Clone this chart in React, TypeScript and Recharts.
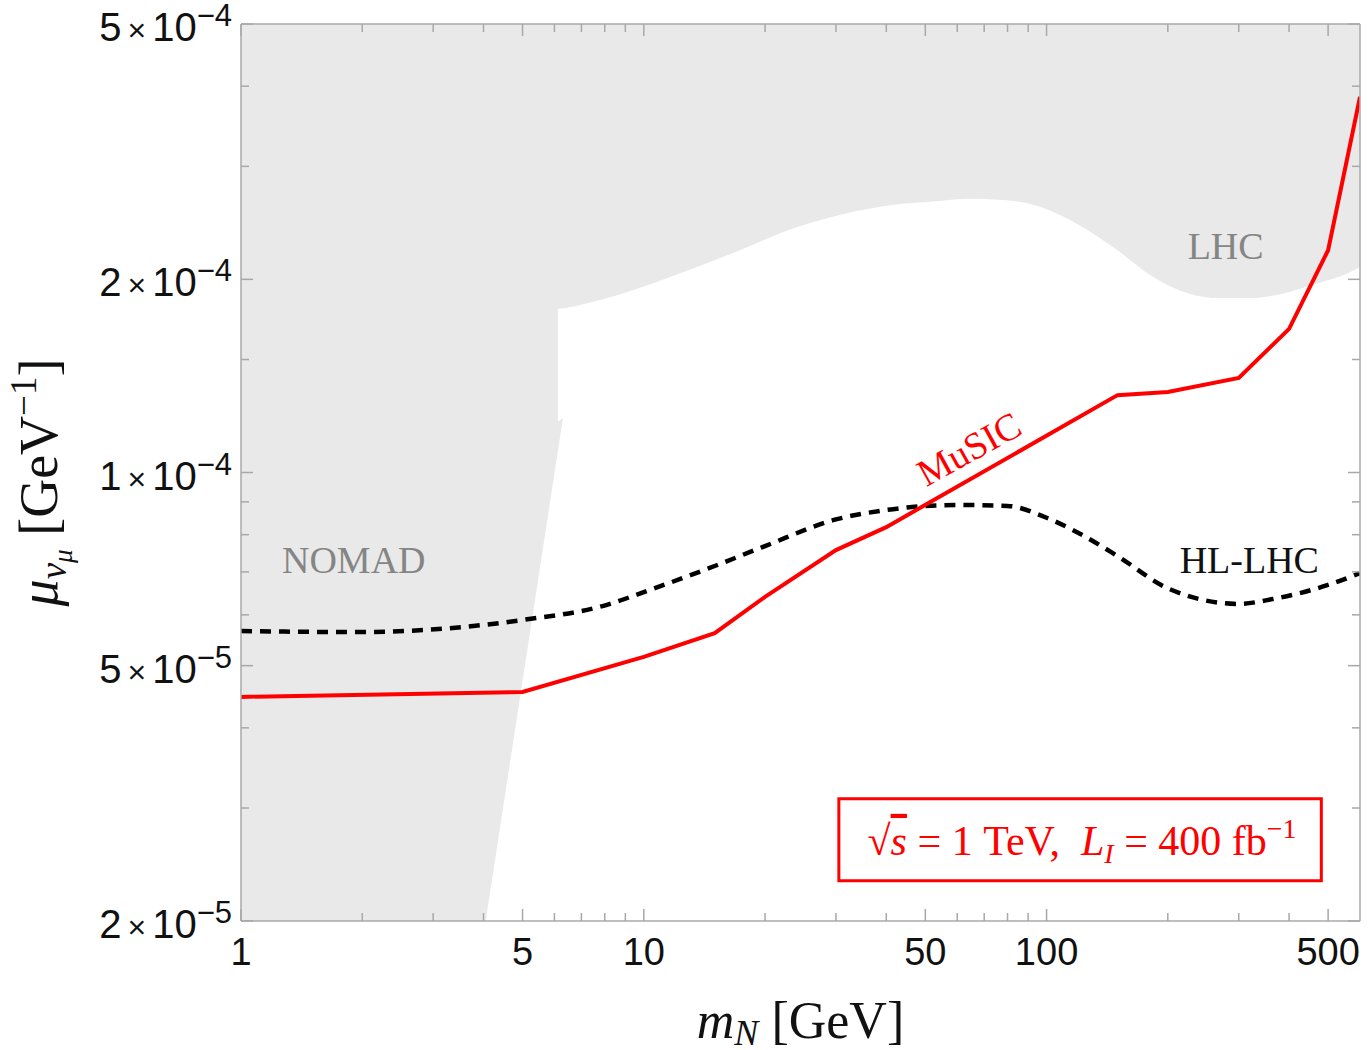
import React from "react"
import {
  ComposedChart,
  Area,
  Line,
  XAxis,
  YAxis,
  ReferenceDot,
  ReferenceArea,
  Label,
} from "recharts"

const SANS = '"Liberation Sans", Arial, sans-serif'
const SERIF = '"Liberation Serif", "Times New Roman", serif'
const FRAME = "#a8a8a8"
const SHADE = "#e9e9e9"
const GREY_TEXT = "#858585"

// axes
const X_DOMAIN = [1, 600]
const Y_DOMAIN = [2e-5, 5e-4]
const xTicks = [1, 2, 3, 4, 5, 6, 7, 8, 9, 10, 20, 30, 40, 50, 60, 70, 80, 90, 100, 200, 300, 400, 500]
const xLabels = [1, 5, 10, 50, 100, 500]
const yTicks = [2e-5, 3e-5, 4e-5, 5e-5, 6e-5, 7e-5, 8e-5, 9e-5, 1e-4, 1.5e-4, 2e-4, 3e-4, 4e-4, 5e-4]
const yLabelValues = [2e-5, 5e-5, 1e-4, 2e-4, 5e-4]
const yLabelMantissa = ["2", "5", "1", "2", "5"]
const yLabelExponent = ["−5", "−5", "−4", "−4", "−4"]

// NOMAD excluded band (left side)
const nomadX = [1, 4.05, 6.12, 6.12, 6.3]
const nomadLow = [2e-5, 2e-5, 1.08e-4, 1.08e-4, 1.216e-4]
const nomadHigh = [5e-4, 5e-4, 5e-4, 1.2e-4, 1.216e-4]

// LHC excluded band (above the curve)
const lhcX = [6.0, 6.12, 7.35, 10, 13, 17.3, 23, 30.6, 40.8, 54.3, 63.3, 76.5, 89.2, 108, 126, 150, 183, 226, 269, 319, 385, 468, 565, 600]
const lhcLow = [1.8e-4, 1.8e-4, 1.84e-4, 1.95e-4, 2.07e-4, 2.22e-4, 2.39e-4, 2.52e-4, 2.61e-4, 2.65e-4, 2.67e-4, 2.66e-4, 2.63e-4, 2.52e-4, 2.39e-4, 2.22e-4, 2.02e-4, 1.9e-4, 1.87e-4, 1.87e-4, 1.9e-4, 1.97e-4, 2.05e-4, 2.09e-4]
const lhcTop = 5e-4

// HL-LHC projection (dashed)
const hllhcX = [1, 2, 3.3, 5, 8.1, 10, 15, 20, 30, 40, 60, 80, 100, 120, 150, 200, 300, 364, 500, 600]
const hllhcY = [5.66e-5, 5.64e-5, 5.72e-5, 5.89e-5, 6.22e-5, 6.51e-5, 7.15e-5, 7.68e-5, 8.45e-5, 8.74e-5, 8.9e-5, 8.87e-5, 8.5e-5, 8.05e-5, 7.41e-5, 6.6e-5, 6.24e-5, 6.35e-5, 6.68e-5, 6.97e-5]

// MuSIC reach (red)
const musicX = [1, 5, 10, 15, 20, 30, 40, 150, 200, 300, 400, 500, 600]
const musicY = [4.47e-5, 4.55e-5, 5.16e-5, 5.62e-5, 6.4e-5, 7.57e-5, 8.22e-5, 1.32e-4, 1.335e-4, 1.404e-4, 1.674e-4, 2.22e-4, 3.85e-4]

const nomadData = nomadX.map((x, i) => ({ x, band: [nomadLow[i], nomadHigh[i]] }))
const lhcData = lhcX.map((x, i) => ({ x, band: [lhcLow[i], lhcTop] }))
const hllhcData = hllhcX.map((x, i) => ({ x, y: hllhcY[i] }))
const musicData = musicX.map((x, i) => ({ x, y: musicY[i] }))

const near = (a: number, b: number) => Math.abs(a / b - 1) < 1e-6
const isXMajor = (v: number) => xLabels.some((l) => near(l, v))
const yLabelIndex = (v: number) => yLabelValues.findIndex((l) => near(l, v))

function BottomTick({ x, y, payload }: any) {
  const major = isXMajor(payload.value)
  return (
    <g>
      <line x1={x} x2={x} y1={y} y2={y - (major ? 12 : 8)} stroke={FRAME} strokeWidth={1.5} />
      {major && (
        <text x={x} y={y + 44} textAnchor="middle" fontFamily={SANS} fontSize={38} fill="#111">
          {payload.value}
        </text>
      )}
    </g>
  )
}

function TopTick({ x, y, payload }: any) {
  const major = isXMajor(payload.value)
  return <line x1={x} x2={x} y1={y} y2={y + (major ? 12 : 8)} stroke={FRAME} strokeWidth={1.5} />
}

function LeftTick({ x, y, payload }: any) {
  const i = yLabelIndex(payload.value)
  return (
    <g>
      <line x1={x} x2={x + (i >= 0 ? 12 : 8)} y1={y} y2={y} stroke={FRAME} strokeWidth={1.5} />
      {i >= 0 && (
        <text x={x - 9} y={y + 17} textAnchor="end" fontFamily={SANS} fontSize={40} fill="#111">
          <tspan>{yLabelMantissa[i]}</tspan>
          <tspan dx={6} fontSize={32}>×</tspan>
          <tspan dx={6}>10</tspan>
          <tspan dy={-15} fontSize={31}>{yLabelExponent[i]}</tspan>
        </text>
      )}
    </g>
  )
}

function RightTick({ x, y, payload }: any) {
  const i = yLabelIndex(payload.value)
  return <line x1={x} x2={x - (i >= 0 ? 12 : 8)} y1={y} y2={y} stroke={FRAME} strokeWidth={1.5} />
}

function XTitle({ viewBox }: any) {
  const cx = viewBox.x + viewBox.width / 2
  return (
    <text x={cx} y={viewBox.y + 117} textAnchor="middle" fontFamily={SERIF} fontSize={52} fill="#111">
      <tspan fontStyle="italic">m</tspan>
      <tspan fontStyle="italic" fontSize={36} dy={7}>N</tspan>
      <tspan dy={-7}>{"\u00a0[GeV]"}</tspan>
    </text>
  )
}

function YTitle({ viewBox }: any) {
  const cx = viewBox.x + 57
  const cy = viewBox.y + viewBox.height / 2 + 10
  return (
    <text
      x={cx}
      y={cy}
      textAnchor="middle"
      fontFamily={SERIF}
      fontSize={54}
      fill="#111"
      transform={`rotate(-90 ${cx} ${cy})`}
    >
      <tspan fontStyle="italic">μ</tspan>
      <tspan fontStyle="italic" fontSize={37} dy={9}>ν</tspan>
      <tspan fontStyle="italic" fontSize={27} dy={6}>μ</tspan>
      <tspan dy={-15}>{"\u00a0[GeV"}</tspan>
      <tspan fontSize={37} dy={-21}>−1</tspan>
      <tspan dy={21}>]</tspan>
    </text>
  )
}

function Note({ viewBox, text, color, size = 38, anchor = "start", rot = 0 }: any) {
  const { x, y } = viewBox
  return (
    <text
      x={x}
      y={y}
      fill={color}
      fontFamily={SERIF}
      fontSize={size}
      textAnchor={anchor}
      transform={rot ? `rotate(${rot} ${x} ${y})` : undefined}
    >
      {text}
    </text>
  )
}

function BoxText({ viewBox }: any) {
  const cx = viewBox.x + viewBox.width / 2
  const cy = viewBox.y + viewBox.height / 2
  return (
    <text x={cx + 2} y={cy + 15} textAnchor="middle" fill="#ff0000" fontFamily={SERIF} fontSize={42}>
      <tspan>√</tspan>
      <tspan fontStyle="italic" style={{ textDecoration: "overline" }}>s</tspan>
      <tspan>{"\u00a0=\u00a01\u00a0TeV,\u00a0\u00a0"}</tspan>
      <tspan fontStyle="italic">L</tspan>
      <tspan fontStyle="italic" fontSize={28} dy={8}>I</tspan>
      <tspan dy={-8}>{"\u00a0=\u00a0400\u00a0fb"}</tspan>
      <tspan fontSize={28} dy={-17}>−1</tspan>
    </text>
  )
}

export default function App() {
  return (
    <div style={{ position: "absolute", left: 0, top: 0 }}>
      <ComposedChart width={1368} height={1050} margin={{ top: 23, right: 7, bottom: 0, left: 0 }}>
        <Area
          data={nomadData}
          dataKey="band"
          type="linear"
          stroke="none"
          fill={SHADE}
          fillOpacity={1}
          isAnimationActive={false}
        />
        <Area
          data={lhcData}
          dataKey="band"
          type="monotone"
          stroke="none"
          fill={SHADE}
          fillOpacity={1}
          isAnimationActive={false}
        />
        <Line
          data={hllhcData}
          dataKey="y"
          type="monotone"
          stroke="#000"
          strokeWidth={4.5}
          strokeDasharray="11 8"
          dot={false}
          isAnimationActive={false}
        />
        <Line
          data={musicData}
          dataKey="y"
          type="linear"
          stroke="#ff0000"
          strokeWidth={4}
          dot={false}
          isAnimationActive={false}
        />

        <ReferenceArea
          x1={30.5}
          x2={481}
          y1={2.31e-5}
          y2={3.1e-5}
          stroke="#ff0000"
          strokeWidth={3}
          fill="#ffffff"
          fillOpacity={1}
          label={<BoxText />}
        />
        <ReferenceDot x={1.264} y={6.97e-5} r={0} fill="none" stroke="none"
          label={<Note text="NOMAD" color={GREY_TEXT} />} />
        <ReferenceDot x={224} y={2.15e-4} r={0} fill="none" stroke="none"
          label={<Note text="LHC" color={GREY_TEXT} />} />
        <ReferenceDot x={214} y={6.97e-5} r={0} fill="none" stroke="none"
          label={<Note text="HL-LHC" color="#111" />} />
        <ReferenceDot x={66.5} y={1.045e-4} r={0} fill="none" stroke="none"
          label={<Note text="MuSIC" color="#ff0000" size={38} anchor="middle" rot={-29} />} />

        <XAxis
          dataKey="x"
          type="number"
          scale="log"
          domain={X_DOMAIN}
          allowDataOverflow
          ticks={xTicks}
          interval={0}
          height={129}
          tickSize={0}
          tickMargin={0}
          tick={(p: any) => <BottomTick {...p} />}
          stroke={FRAME}
          strokeWidth={1.5}
        >
          <Label content={<XTitle />} />
        </XAxis>
        <XAxis
          xAxisId="top"
          orientation="top"
          dataKey="x"
          type="number"
          scale="log"
          domain={X_DOMAIN}
          allowDataOverflow
          ticks={xTicks}
          interval={0}
          height={1}
          tickSize={0}
          tickMargin={0}
          tick={(p: any) => <TopTick {...p} />}
          stroke={FRAME}
          strokeWidth={1.5}
        />
        <YAxis
          type="number"
          scale="log"
          domain={Y_DOMAIN}
          allowDataOverflow
          ticks={yTicks}
          interval={0}
          width={241}
          tickSize={0}
          tickMargin={0}
          tick={(p: any) => <LeftTick {...p} />}
          stroke={FRAME}
          strokeWidth={1.5}
        >
          <Label content={<YTitle />} />
        </YAxis>
        <YAxis
          yAxisId="right"
          orientation="right"
          type="number"
          scale="log"
          domain={Y_DOMAIN}
          allowDataOverflow
          ticks={yTicks}
          interval={0}
          width={1}
          tickSize={0}
          tickMargin={0}
          tick={(p: any) => <RightTick {...p} />}
          stroke={FRAME}
          strokeWidth={1.5}
        />
      </ComposedChart>
    </div>
  )
}
